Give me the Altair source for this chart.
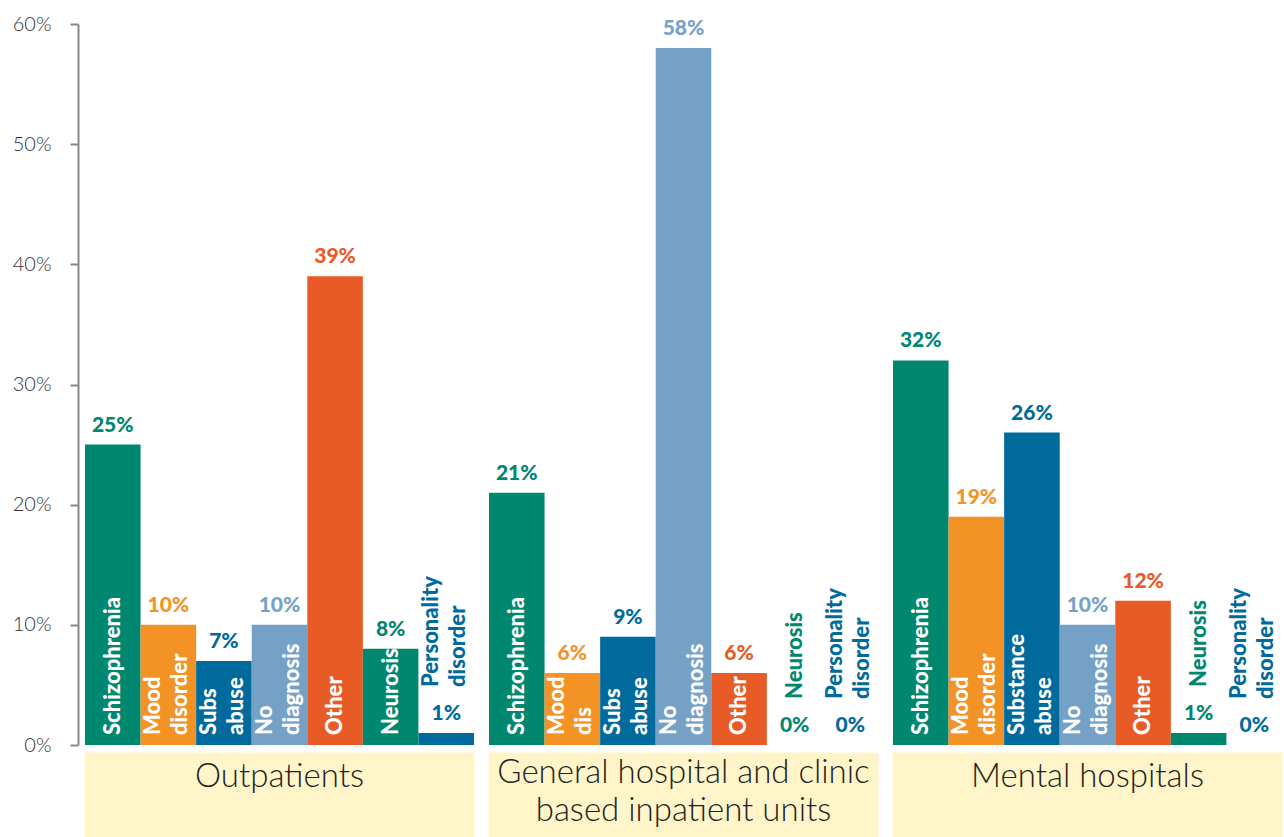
import altair as alt
import pandas as pd

group_line1 = ["Outpatients", "General hospital and clinic", "Mental hospitals"]
group_line2 = ["", "based inpatient units", ""]
categories = ["Schizophrenia", "Mood disorder", "Substance abuse", "No diagnosis",
              "Other", "Neurosis", "Personality disorder"]
line1 = [
    ["Schizophrenia", "Mood", "Subs", "No", "Other", "Neurosis", "Personality"],
    ["Schizophrenia", "Mood", "Subs", "No", "Other", "Neurosis", "Personality"],
    ["Schizophrenia", "Mood", "Substance", "No", "Other", "Neurosis", "Personality"],
]
line2 = [
    ["", "disorder", "abuse", "diagnosis", "", "", "disorder"],
    ["", "dis", "abuse", "diagnosis", "", "", "disorder"],
    ["", "disorder", "abuse", "diagnosis", "", "", "disorder"],
]
values = [
    [25, 10, 7, 10, 39, 8, 1],
    [21, 6, 9, 58, 6, 0, 0],
    [32, 19, 26, 10, 12, 1, 0],
]
colors = ["#00876F", "#F39325", "#006A9C", "#76A1C6", "#E95B26", "#00876F", "#006A9C"]
y_ticks = [0, 10, 20, 30, 40, 50, 60]

FONT = "Lato"
PW = 389
PH = 721
LW = 900
LS = 21
NS = 22
BOX = "#FFF5C9"


def panel(i):
    df = pd.DataFrame({
        "cat": categories,
        "l1": line1[i],
        "l2": line2[i],
        "value": values[i],
        "g1": [group_line1[i]] * len(categories),
        "g2": [group_line2[i]] * len(categories),
    })
    x = alt.X("cat:N", sort=categories, axis=None,
              scale=alt.Scale(paddingInner=0, paddingOuter=0))
    if i == 0:
        axis = alt.Axis(values=[v / 100 for v in y_ticks], format=".0%", title=None,
                        grid=False, offset=7, tickSize=8, labelPadding=19,
                        domainColor="#888888", tickColor="#888888", domainWidth=2,
                        tickWidth=2, labelFont=FONT, labelFontSize=20,
                        labelFontWeight=300, labelColor="#333333")
    else:
        axis = None
    yscale = alt.Scale(domain=[0, 0.6], nice=False)
    y = alt.Y("frac:Q", scale=yscale, axis=axis)
    ybase = alt.Y("base:Q", scale=yscale, axis=axis)
    color = alt.Color("cat:N", scale=alt.Scale(domain=categories, range=colors), legend=None)

    base = alt.Chart(df).transform_calculate(
        frac="datum.value / 100", base="0", pct="datum.value + '%'"
    )
    box = base.mark_rect(color=BOX, stroke=BOX, strokeWidth=1).encode(
        x=x, y=alt.value(PH + 8), y2=alt.value(PH + 92))
    bars = base.mark_bar().encode(x=x, y=y, color=color)
    vals = base.mark_text(
        baseline="alphabetic", dy=-13, font=FONT, fontSize=LS, fontWeight=LW
    ).encode(x=x, y=y, text="pct:N", color=color)

    tstyle = dict(angle=270, align="left", baseline="middle", font=FONT,
                  fontSize=NS, fontWeight=LW)
    in1 = base.transform_filter("datum.value > 1 && datum.l2 == ''").mark_text(
        dx=10, color="white", **tstyle).encode(x=x, y=ybase, text="l1:N")
    in2a = base.transform_filter("datum.value > 1 && datum.l2 != ''").mark_text(
        dx=10, dy=-15, color="white", **tstyle).encode(x=x, y=ybase, text="l1:N")
    in2b = base.transform_filter("datum.value > 1 && datum.l2 != ''").mark_text(
        dx=10, dy=12, color="white", **tstyle).encode(x=x, y=ybase, text="l2:N")
    out1 = base.transform_filter("datum.value <= 1 && datum.l2 == ''").mark_text(
        dx=46, **tstyle).encode(x=x, y=y, text="l1:N", color=color)
    out2a = base.transform_filter("datum.value <= 1 && datum.l2 != ''").mark_text(
        dx=46, dy=-15, **tstyle).encode(x=x, y=y, text="l1:N", color=color)
    out2b = base.transform_filter("datum.value <= 1 && datum.l2 != ''").mark_text(
        dx=46, dy=12, **tstyle).encode(x=x, y=y, text="l2:N", color=color)

    gstyle = dict(font=FONT, fontSize=33, fontWeight=300, color="#222222",
                  baseline="middle", align="center")
    first = base.transform_filter("datum.cat == 'Schizophrenia'")
    if group_line2[i] == "":
        titles = [first.mark_text(**gstyle).encode(
            x=alt.value(PW / 2), y=alt.value(PH + 32), text="g1:N")]
    else:
        titles = [
            first.mark_text(**gstyle).encode(
                x=alt.value(PW / 2), y=alt.value(PH + 28), text="g1:N"),
            first.mark_text(**gstyle).encode(
                x=alt.value(PW / 2), y=alt.value(PH + 66), text="g2:N"),
        ]

    return alt.layer(box, bars, vals, in1, in2a, in2b, out1, out2a, out2b, *titles).properties(
        width=PW, height=PH)


chart = alt.hconcat(panel(0), panel(1), panel(2), spacing=13).properties(
    padding={"left": 12, "top": 14, "right": 0, "bottom": 0}
).configure_view(stroke=None)

chart.save("out.html", embed_options={"renderer": "svg", "actions": False})
